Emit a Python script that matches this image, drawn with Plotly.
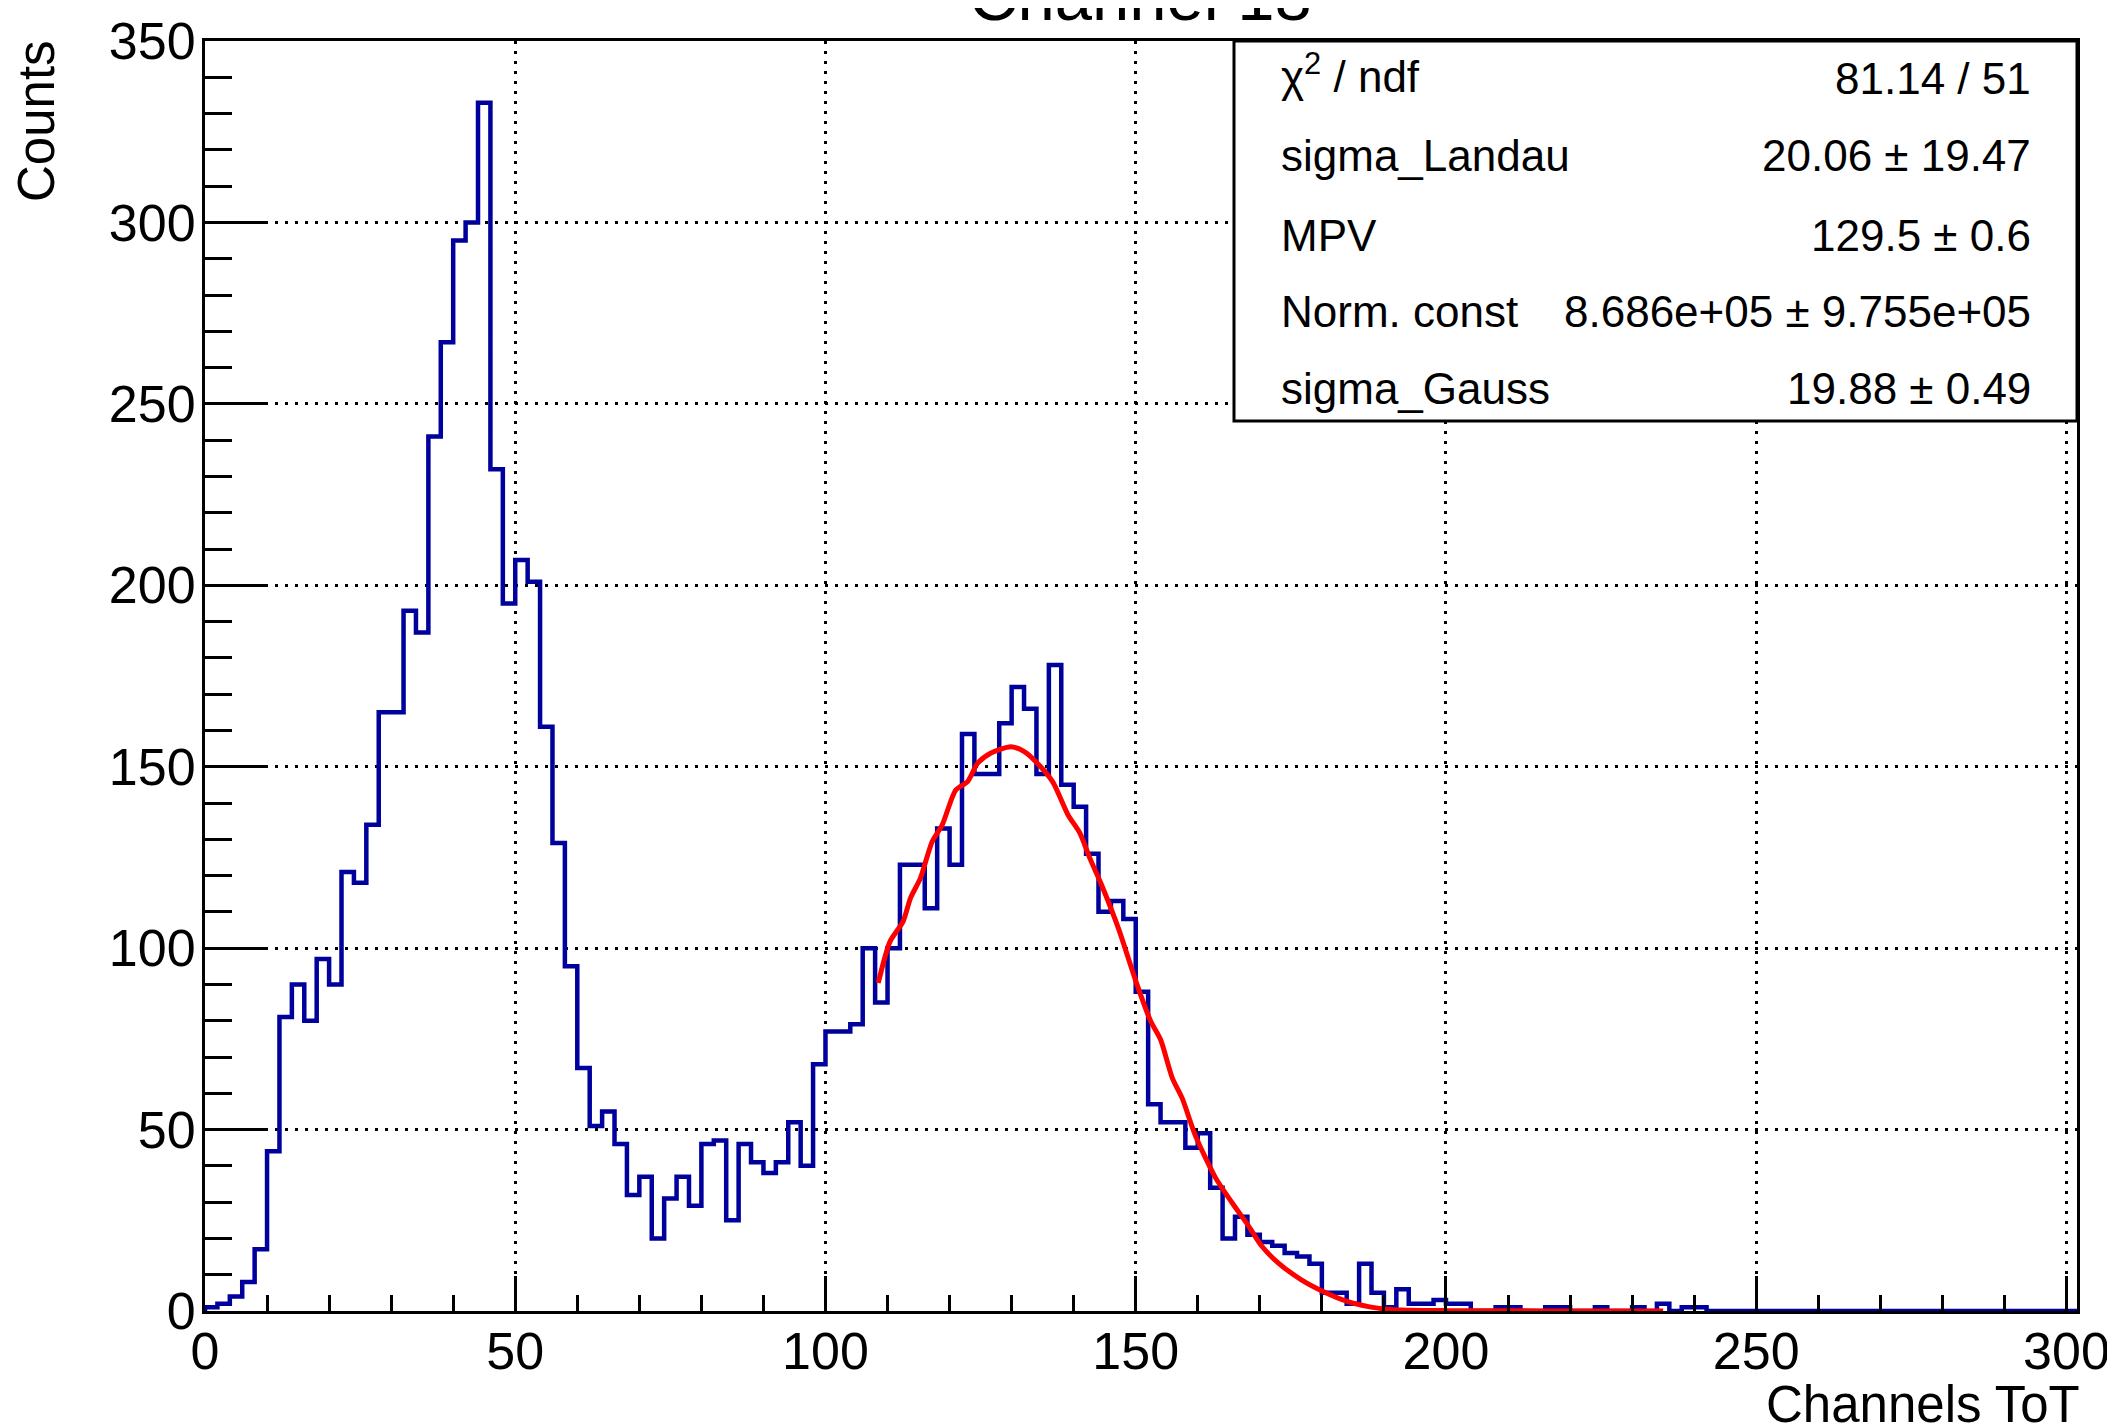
import numpy as np
import plotly.graph_objects as go

# ---------------- data ----------------
bin_width = 2.0
counts = [
    1, 2, 4, 8, 17, 44, 81, 90, 80, 97,
    90, 121, 118, 134, 165, 165, 193, 187, 241, 267,
    295, 300, 333, 232, 195, 207, 201, 161, 129, 95,
    67, 51, 55, 46, 32, 37, 20, 31, 37, 29,
    46, 47, 25, 46, 41, 38, 41, 52, 40, 68,
    77, 77, 79, 100, 85, 100, 123, 123, 111, 133,
    123, 159, 148, 148, 162, 172, 166, 148, 178, 145,
    139, 126, 110, 113, 108, 88, 57, 52, 52, 45,
    49, 34, 20, 26, 21, 19, 18, 16, 15, 13,
    5, 5, 2, 13, 5, 1, 6, 2, 2, 3,
    2, 2, 0, 0, 1, 1, 0, 0, 1, 1,
    0, 0, 1, 0, 0, 1, 0, 2, 0, 1,
    1, 0, 0, 0, 0, 0, 0, 0, 0, 0,
    0, 0, 0, 0, 0, 0, 0, 0, 0, 0,
    0, 0, 0, 0, 0, 0, 0, 0, 0, 0,
    0,
]

fit_x = [108.5, 110.4, 112.5, 113.7, 115.3, 117.2, 118.8, 121.0, 122.9, 124.5,
         126.6, 129.9, 132.1, 133.9, 136.6, 139.1, 141.0, 142.6, 144.5, 147.2,
         150.0, 152.4, 154.0, 155.9, 157.5, 159.6, 162.8, 165.5, 168.2, 170.3,
         173.0, 176.7, 180.2, 184.2, 189.0, 192.8, 200.0, 215.0, 235.0]
fit_y = [90.4, 101.8, 107.3, 113.8, 119.3, 129.4, 133.9, 143.6, 145.9, 150.9,
         153.7, 155.5, 154.1, 151.4, 145.9, 136.7, 131.7, 124.8, 117.4, 105.5,
         91.0, 79.9, 74.8, 64.2, 58.6, 48.4, 36.9, 29.9, 23.4, 17.9,
         13.2, 8.6, 5.4, 2.6, 0.8, 0.3, 0.1, 0.03, 0.0]

x_ticks = [0, 50, 100, 150, 200, 250, 300]
y_ticks = [0, 50, 100, 150, 200, 250, 300, 350]

title_text = "Channel 18"
x_title = "Channels ToT"
y_title = "Counts"

stat_labels = ["χ<sup>2</sup> / ndf", "sigma_Landau", "MPV", "Norm. const", "sigma_Gauss"]
stat_values = ["81.14 / 51", "20.06 ± 19.47", "129.5 ± 0.6",
               "8.686e+05 ± 9.755e+05", "19.88 ± 0.49"]

# ---------------- figure geometry (page pixels) ----------------
W, H = 2115, 1423
PAGE_OFF = 8                      # default body margin of the html page
PL, PR, PT, PB = 205, 2077, 41, 1311   # plot area in page pixels
PW, PH = PR - PL, PB - PT
ML = PL - PAGE_OFF
MT = PT - PAGE_OFF
MR = W - ML - PW
MB = H - MT - PH


def px_x(p):
    return (p - PL) / PW


def px_y(p):
    return (PB - p) / PH


edges = [i * bin_width for i in range(len(counts) + 1)]
hx = [edges[0]] + edges
hy = [0] + list(counts) + [counts[-1]]

FONT = "Liberation Sans, Arial, Helvetica, sans-serif"

fig = go.Figure()
fig.add_trace(go.Scatter(x=hx, y=hy, mode="lines",
                         line=dict(color="#00009c", width=4.5, shape="hv"),
                         hoverinfo="skip"))
fig.add_trace(go.Scatter(x=fit_x, y=fit_y, mode="lines",
                         line=dict(color="#ff0000", width=5, shape="spline", smoothing=0.7),
                         hoverinfo="skip"))

axis_common = dict(
    showline=True, linecolor="black", linewidth=3, mirror=True,
    ticks="inside", tickwidth=3, tickcolor="black",
    showgrid=True, gridcolor="black", gridwidth=3, griddash="3px,7px",
    zeroline=False, tickfont=dict(family=FONT, size=52, color="black"),
    ticklabeloverflow="allow", automargin=False,
)

fig.update_xaxes(range=[0, 301.7], tickmode="array", tickvals=x_ticks,
                 ticktext=[str(v) for v in x_ticks], ticklen=35, ticklabelstandoff=-7,
                 minor=dict(dtick=10, tick0=0, ticklen=16, tickwidth=3, tickcolor="black",
                            ticks="inside", showgrid=False),
                 **axis_common)
fig.update_yaxes(range=[0, 350], tickmode="array", tickvals=y_ticks,
                 ticktext=[str(v) for v in y_ticks], ticklen=60, ticklabelstandoff=-4,
                 minor=dict(dtick=10, tick0=0, ticklen=27, tickwidth=3, tickcolor="black",
                            ticks="inside", showgrid=False),
                 **axis_common)

# stats box
fig.add_shape(type="rect", xref="paper", yref="paper",
              x0=px_x(1234), x1=1.0, y0=px_y(421), y1=1.0,
              fillcolor="white", line=dict(color="black", width=3), layer="above")

row_centers = [73, 156, 236, 312, 388]
annotations = []
for i, (lab, val, cy) in enumerate(zip(stat_labels, stat_values, row_centers)):
    annotations.append(dict(x=px_x(1279), y=px_y(cy), xref="paper", yref="paper",
                            text=lab, showarrow=False, xanchor="left", yanchor="middle",
                            font=dict(family=FONT, size=44, color="black")))
    annotations.append(dict(x=px_x(2033), y=px_y(cy + (5 if i == 0 else 0)),
                            xref="paper", yref="paper",
                            text=val, showarrow=False, xanchor="right", yanchor="middle",
                            font=dict(family=FONT, size=44, color="black")))

# title (partly outside the page, as in the reference)
annotations.append(dict(x=px_x(1140), y=px_y(-4), xref="paper", yref="paper",
                        text=title_text, showarrow=False, xanchor="center", yanchor="middle",
                        font=dict(family=FONT, size=67, color="black")))
# axis titles
annotations.append(dict(x=px_x(2082), y=px_y(1404), xref="paper", yref="paper",
                        text=x_title, showarrow=False, xanchor="right", yanchor="middle",
                        font=dict(family=FONT, size=51, color="black")))
annotations.append(dict(x=px_x(36), y=px_y(38), xref="paper", yref="paper",
                        text=y_title, showarrow=False, textangle=-90,
                        xanchor="center", yanchor="top",
                        font=dict(family=FONT, size=51, color="black")))

fig.update_layout(width=W, height=H, margin=dict(l=ML, r=MR, t=MT, b=MB, pad=0, autoexpand=False),
                  plot_bgcolor="white", paper_bgcolor="white", showlegend=False,
                  annotations=annotations, font=dict(family=FONT, color="black"))

fig.write_html("out.html")
